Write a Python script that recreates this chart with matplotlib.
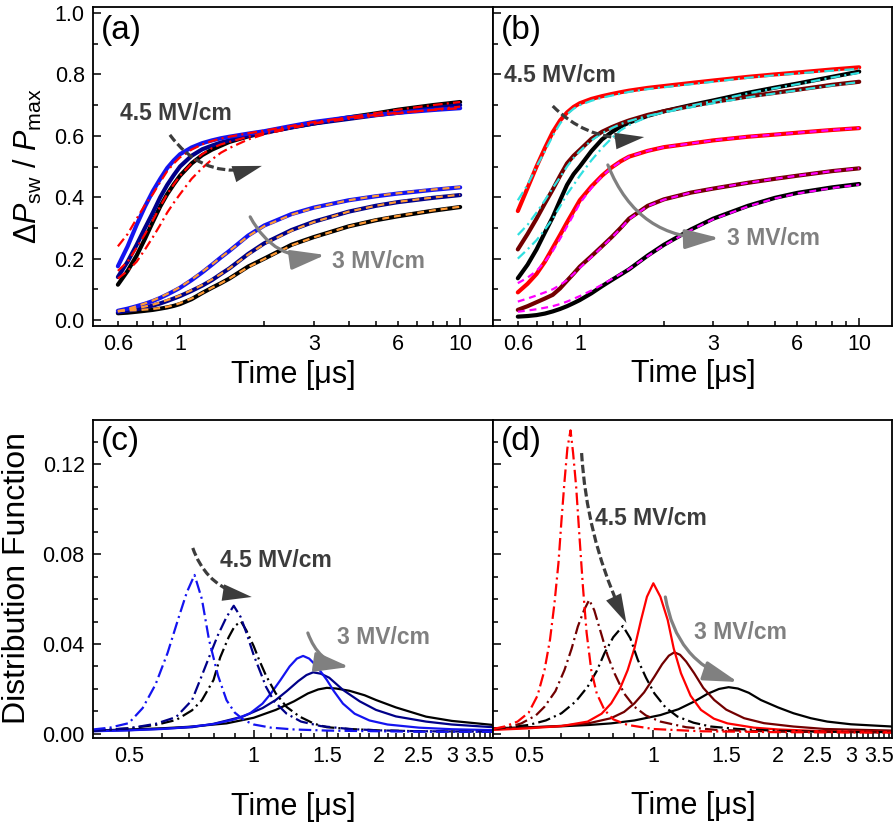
import numpy as np
import matplotlib
matplotlib.use("Agg")
import matplotlib.pyplot as plt
from matplotlib.patches import FancyArrowPatch, ArrowStyle
from matplotlib.ticker import FixedLocator, FuncFormatter, MultipleLocator, NullFormatter

plt.rcParams['font.family'] = ['Liberation Sans', 'DejaVu Sans']
plt.rcParams['mathtext.fontset'] = 'custom'
plt.rcParams['mathtext.rm'] = 'Liberation Sans'
plt.rcParams['mathtext.it'] = 'Liberation Sans:italic'
plt.rcParams['mathtext.bf'] = 'Liberation Sans:bold'
plt.rcParams['lines.scale_dashes'] = False

# ---------------- data: panels (a) and (b) ----------------
t_sw = [0.6, 0.65, 0.7, 0.75, 0.8, 0.85, 0.9, 0.95, 1.0, 1.1, 1.2, 1.3, 1.4, 1.5,
        1.75, 2, 2.5, 3, 4, 5, 6, 8, 10]

# (a) 4.5 MV/cm measured
a45_blue = [.175, .24, .31, .37, .42, .46, .495, .52, .54, .562, .576, .585, .592, .597, .607, .615, .632, .645, .66, .668, .675, .684, .69]
a45_navy = [.14, .19, .245, .30, .35, .40, .44, .472, .50, .535, .556, .568, .578, .585, .60, .61, .627, .64, .655, .667, .675, .69, .70]
a45_black = [.115, .16, .21, .265, .32, .37, .41, .442, .47, .51, .537, .555, .568, .58, .598, .61, .628, .64, .66, .673, .685, .70, .71]
# (a) 4.5 MV/cm fits
a45_fit1 = [.24, .28, .33, .375, .41, .45, .485, .51, .53, .555, .572, .583, .591, .597, .608, .617, .632, .645, .66, .668, .675, .684, .69]
a45_fit2 = [.16, .19, .235, .28, .325, .37, .41, .442, .47, .51, .54, .56, .572, .58, .597, .61, .627, .64, .655, .665, .673, .685, .695]
a45_fit3 = [.135, .16, .19, .23, .27, .31, .35, .382, .41, .46, .495, .523, .545, .56, .588, .605, .625, .64, .66, .674, .685, .70, .71]
# (a) 3 MV/cm measured
a3_blue = [.03, .037, .045, .053, .062, .072, .083, .094, .105, .13, .155, .18, .204, .225, .275, .308, .345, .366, .39, .403, .412, .424, .432]
a3_navy = [.025, .03, .035, .041, .047, .054, .062, .07, .078, .095, .112, .13, .15, .168, .215, .25, .293, .32, .353, .372, .384, .398, .407]
a3_black = [.022, .024, .027, .03, .033, .037, .041, .046, .052, .068, .088, .105, .12, .135, .174, .2, .245, .27, .305, .325, .338, .356, .368]
# (a) 3 MV/cm fits
a3_fit1 = [.028, .036, .045, .054, .064, .074, .085, .096, .107, .132, .157, .181, .204, .225, .273, .306, .343, .365, .39, .404, .413, .425, .433]
a3_fit2 = [.028, .033, .038, .044, .05, .057, .065, .072, .08, .097, .114, .132, .15, .168, .213, .248, .291, .319, .353, .372, .385, .399, .408]
a3_fit3 = [.03, .031, .032, .034, .036, .039, .043, .048, .055, .07, .088, .105, .12, .135, .172, .199, .243, .269, .305, .326, .339, .357, .369]

# (b) 4.5 MV/cm measured
b45_red = [.355, .43, .50, .56, .612, .65, .676, .694, .706, .72, .729, .736, .742, .747, .756, .762, .772, .78, .792, .80, .806, .816, .823]
b45_maroon = [.23, .28, .33, .38, .425, .47, .51, .535, .554, .59, .613, .628, .64, .65, .668, .68, .697, .71, .728, .74, .75, .766, .776]
b45_black = [.136, .18, .23, .285, .335, .39, .44, .475, .50, .55, .588, .612, .63, .643, .665, .68, .70, .715, .74, .757, .77, .792, .809]
# (b) 4.5 MV/cm fits
b45_fit1 = [.39, .44, .50, .55, .60, .64, .67, .688, .70, .714, .724, .731, .737, .743, .752, .758, .768, .776, .789, .797, .803, .812, .818]
b45_fit2 = [.277, .31, .35, .39, .43, .465, .50, .528, .55, .585, .608, .625, .638, .648, .665, .676, .693, .706, .725, .738, .748, .764, .775]
b45_fit3 = [.20, .23, .26, .295, .33, .37, .41, .44, .47, .52, .56, .592, .618, .635, .662, .677, .698, .713, .738, .755, .768, .79, .805]
# (b) 3 MV/cm measured
b3_red = [.09, .118, .15, .19, .235, .277, .318, .355, .39, .435, .47, .497, .517, .532, .551, .563, .575, .585, .597, .604, .61, .619, .625]
b3_maroon = [.033, .045, .058, .07, .082, .103, .128, .151, .174, .208, .24, .27, .30, .33, .372, .393, .415, .428, .447, .46, .47, .485, .494]
b3_black = [.011, .013, .016, .021, .028, .036, .045, .055, .065, .087, .11, .13, .148, .165, .21, .245, .295, .33, .372, .398, .414, .432, .443]
# (b) 3 MV/cm fits
b3_fit1 = [.12, .138, .16, .19, .225, .265, .305, .343, .38, .43, .468, .496, .516, .532, .551, .563, .575, .585, .597, .604, .61, .619, .625]
b3_fit2 = [.06, .07, .08, .09, .10, .114, .13, .15, .17, .205, .238, .268, .298, .328, .371, .392, .415, .428, .447, .46, .47, .485, .494]
b3_fit3 = [.027, .031, .035, .04, .045, .052, .06, .069, .078, .096, .115, .133, .15, .166, .208, .243, .293, .328, .37, .396, .412, .43, .441]

# ---------------- data: panel (c) ----------------
c45_1_t = [0.41, 0.45, 0.5, 0.54, 0.58, 0.62, 0.66, 0.69, 0.72, 0.75, 0.78, 0.82, 0.86, 0.9, 0.95, 1.0, 1.1, 1.25, 1.5, 2.0, 2.5, 3.0, 3.77]
c45_1_v = [0.0020, 0.0028, 0.0048, 0.0115, 0.022, 0.036, 0.052, 0.063, 0.0707, 0.060, 0.042, 0.026, 0.015, 0.0095, 0.006, 0.0042, 0.0028, 0.002, 0.0015, 0.0012, 0.0010, 0.0010, 0.0010]
c45_2_t = [0.41, 0.5, 0.58, 0.65, 0.71, 0.75, 0.78, 0.82, 0.86, 0.895, 0.93, 0.96, 1.0, 1.04, 1.07, 1.12, 1.2, 1.3, 1.45, 1.7, 2.0, 2.5, 3.77]
c45_2_v = [0.0015, 0.0025, 0.0045, 0.0075, 0.015, 0.026, 0.034, 0.044, 0.052, 0.0570, 0.052, 0.045, 0.035, 0.027, 0.021, 0.0145, 0.0090, 0.0055, 0.0035, 0.0022, 0.0016, 0.0012, 0.001]
c45_3_t = [0.41, 0.5, 0.58, 0.65, 0.71, 0.75, 0.8, 0.83, 0.87, 0.9, 0.932, 0.96, 1.0, 1.03, 1.07, 1.13, 1.2, 1.29, 1.4, 1.5, 1.7, 2.0, 2.5, 3.77]
c45_3_v = [0.0015, 0.0025, 0.0040, 0.0062, 0.0105, 0.015, 0.024, 0.034, 0.043, 0.048, 0.0500, 0.046, 0.039, 0.033, 0.026, 0.018, 0.012, 0.0077, 0.0045, 0.003, 0.0022, 0.0016, 0.0012, 0.001]
c3_1_t = [0.41, 0.5, 0.6, 0.7, 0.8, 0.9, 0.98, 1.05, 1.1, 1.16, 1.22, 1.27, 1.315, 1.36, 1.42, 1.5, 1.56, 1.64, 1.75, 1.9, 2.1, 2.5, 3.0, 3.77]
c3_1_v = [0.0012, 0.0016, 0.0022, 0.0031, 0.0044, 0.0065, 0.0092, 0.0135, 0.018, 0.024, 0.030, 0.0335, 0.0347, 0.0335, 0.030, 0.024, 0.019, 0.0135, 0.0090, 0.0060, 0.0042, 0.0028, 0.0021, 0.0017]
c3_2_t = [0.41, 0.5, 0.6, 0.71, 0.8, 0.94, 1.05, 1.13, 1.2, 1.28, 1.34, 1.39, 1.45, 1.52, 1.64, 1.8, 1.97, 2.2, 2.6, 3.0, 3.77]
c3_2_v = [0.0013, 0.0017, 0.0023, 0.0030, 0.0045, 0.0077, 0.0115, 0.0151, 0.019, 0.0235, 0.0262, 0.0274, 0.0268, 0.025, 0.0196, 0.0145, 0.0107, 0.0078, 0.0055, 0.0042, 0.003]
c3_3_t = [0.41, 0.5, 0.6, 0.7, 0.86, 1.0, 1.13, 1.25, 1.35, 1.43, 1.5, 1.58, 1.7, 1.85, 1.97, 2.2, 2.6, 3.0, 3.77]
c3_3_v = [0.0015, 0.002, 0.0025, 0.0032, 0.0047, 0.0072, 0.0107, 0.0145, 0.018, 0.0198, 0.0205, 0.0202, 0.0192, 0.0172, 0.0151, 0.0118, 0.0077, 0.0058, 0.004]

# ---------------- data: panel (d) ----------------
d45_1_t = [0.41, 0.437, 0.47, 0.5, 0.525, 0.546, 0.563, 0.577, 0.59, 0.6, 0.61, 0.62, 0.631, 0.64, 0.651, 0.663, 0.676, 0.69, 0.708, 0.73, 0.762, 0.8, 0.867, 1.0, 1.3, 2.0, 3.77]
d45_1_v = [0.0022, 0.0033, 0.0055, 0.0095, 0.017, 0.0284, 0.042, 0.058, 0.076, 0.095, 0.112, 0.127, 0.135, 0.125, 0.110, 0.088, 0.0655, 0.045, 0.0284, 0.018, 0.0107, 0.0065, 0.004, 0.0022, 0.0012, 0.0008, 0.0006]
d45_2_t = [0.41, 0.45, 0.48, 0.52, 0.546, 0.58, 0.61, 0.635, 0.657, 0.68, 0.70, 0.72, 0.748, 0.775, 0.806, 0.85, 0.9, 0.96, 1.04, 1.2, 1.42, 2.0, 3.77]
d45_2_v = [0.0022, 0.0032, 0.0047, 0.0082, 0.0121, 0.019, 0.0284, 0.038, 0.0477, 0.055, 0.0596, 0.055, 0.0447, 0.035, 0.0269, 0.018, 0.0121, 0.0082, 0.0055, 0.003, 0.0018, 0.001, 0.0007]
d45_3_t = [0.41, 0.45, 0.5, 0.55, 0.6, 0.65, 0.694, 0.73, 0.762, 0.8, 0.844, 0.88, 0.917, 0.96, 1.006, 1.07, 1.144, 1.25, 1.377, 1.6, 2.0, 2.5, 3.77]
d45_3_v = [0.0022, 0.003, 0.004, 0.006, 0.0092, 0.0145, 0.021, 0.028, 0.0359, 0.043, 0.048, 0.0425, 0.033, 0.025, 0.018, 0.0118, 0.0077, 0.005, 0.0033, 0.0022, 0.0014, 0.001, 0.0008]
d3_1_t = [0.41, 0.5, 0.6, 0.694, 0.75, 0.791, 0.83, 0.867, 0.9, 0.934, 0.965, 1.0, 1.04, 1.083, 1.12, 1.166, 1.23, 1.303, 1.4, 1.51, 1.75, 2.0, 2.5, 3.77]
d3_1_v = [0.0018, 0.0025, 0.0035, 0.0055, 0.009, 0.0136, 0.02, 0.0284, 0.038, 0.0507, 0.061, 0.067, 0.061, 0.0507, 0.038, 0.027, 0.017, 0.0107, 0.0068, 0.0047, 0.0028, 0.002, 0.0013, 0.0009]
d3_2_t = [0.41, 0.5, 0.6, 0.7, 0.79, 0.85, 0.9, 0.95, 1.006, 1.05, 1.09, 1.124, 1.16, 1.2, 1.255, 1.32, 1.403, 1.5, 1.657, 1.85, 2.18, 2.6, 3.77]
d3_2_v = [0.0022, 0.0028, 0.0036, 0.0048, 0.007, 0.0098, 0.0136, 0.0185, 0.0255, 0.031, 0.0348, 0.0363, 0.0352, 0.0322, 0.027, 0.0205, 0.0151, 0.0108, 0.007, 0.0048, 0.0033, 0.0022, 0.0015]
d3_3_t = [0.41, 0.5, 0.6, 0.7, 0.79, 0.9, 1.04, 1.15, 1.255, 1.35, 1.44, 1.52, 1.6, 1.7, 1.818, 2.0, 2.18, 2.4, 2.63, 3.0, 3.77]
d3_3_v = [0.0025, 0.003, 0.0034, 0.004, 0.0047, 0.006, 0.0084, 0.011, 0.0144, 0.0178, 0.0200, 0.0208, 0.0202, 0.0183, 0.0151, 0.0118, 0.0092, 0.007, 0.0055, 0.0043, 0.0033]

# tick labels
top_major = [1, 10]
top_minor = [0.6, 0.7, 0.8, 0.9, 2, 3, 4, 5, 6, 7, 8, 9]
top_minor_labels = {0.6: '0.6', 3: '3', 6: '6'}
bot_major = [0.5, 1, 1.5, 2, 2.5, 3, 3.5]
bot_major_labels = ['0.5', '1', '1.5', '2', '2.5', '3', '3.5']
bot_minor = [0.4, 0.6, 0.7, 0.8, 0.9, 1.1, 1.2, 1.3, 1.4, 1.6, 1.7, 1.8, 1.9,
             2.1, 2.2, 2.3, 2.4, 2.6, 2.7, 2.8, 2.9, 3.1, 3.2, 3.3, 3.4, 3.6, 3.7]

# ---------------- styles ----------------
BLUE, NAVY, BLACK = '#1414f0', '#000088', '#000000'
RED, MAROON = '#ff0000', '#720000'
CYAN, MAGENTA, ORANGE = '#30e0e0', '#ff00ff', '#ff9933'
DARK, GRAY = '#3c3c3c', '#808080'
DASHDOT = (0, (7, 3, 1.5, 3))
DASH = (0, (5, 3.5))
DD2 = (0, (9, 3, 1.5, 3))
LW_DATA, LW_FIT, LW_DIST = 3.0, 1.6, 1.6

W, H = 896, 827
fig = plt.figure(figsize=(W / 100, H / 100), dpi=100)


def rect(l, t, r, b):
    return [l / W, 1 - b / H, (r - l) / W, (b - t) / H]


ax_a = fig.add_axes(rect(93, 7, 493, 326))
ax_b = fig.add_axes(rect(493, 7, 892, 326))
ax_c = fig.add_axes(rect(93, 420, 493, 738))
ax_d = fig.add_axes(rect(493, 420, 892, 738))


def style_common(ax, left_labels):
    for s in ax.spines.values():
        s.set_linewidth(1.3)
    ax.tick_params(which='both', direction='in', top=False, right=False,
                   labelsize=15.5, pad=6, width=1.1)
    ax.tick_params(which='major', length=6)
    ax.tick_params(which='minor', length=3.5)
    if not left_labels:
        ax.tick_params(axis='y', which='both', labelleft=False)


for ax, lab in ((ax_a, True), (ax_b, False)):
    ax.set_xscale('log')
    ax.set_xlim(0.489, 13.1)
    ax.set_ylim(-0.0195, 1.0195)
    ax.xaxis.set_major_locator(FixedLocator(top_major))
    ax.xaxis.set_minor_locator(FixedLocator(top_minor))
    ax.xaxis.set_major_formatter(FuncFormatter(lambda v, p: '%g' % v))
    ax.xaxis.set_minor_formatter(FuncFormatter(
        lambda v, p: top_minor_labels.get(round(v, 3), '')))
    ax.yaxis.set_major_locator(MultipleLocator(0.2))
    ax.yaxis.set_minor_locator(MultipleLocator(0.1))
    ax.yaxis.set_major_formatter(FuncFormatter(lambda v, p: '%.1f' % v))
    style_common(ax, lab)

for ax, lab in ((ax_c, True), (ax_d, False)):
    ax.set_xscale('log')
    ax.set_xlim(0.41, 3.77)
    ax.set_ylim(-0.0018, 0.1396)
    ax.xaxis.set_major_locator(FixedLocator(bot_major))
    ax.xaxis.set_minor_locator(FixedLocator(bot_minor))
    ax.xaxis.set_major_formatter(FuncFormatter(
        lambda v, p: bot_major_labels[bot_major.index(min(bot_major, key=lambda m: abs(m - v)))]))
    ax.xaxis.set_minor_formatter(NullFormatter())
    ax.yaxis.set_major_locator(MultipleLocator(0.04))
    ax.yaxis.set_minor_locator(MultipleLocator(0.01))
    ax.yaxis.set_major_formatter(FuncFormatter(lambda v, p: '%.2f' % v))
    style_common(ax, lab)

# ---------------- panel (a) ----------------
for y, c in ((a45_black, BLACK), (a45_navy, NAVY), (a45_blue, BLUE)):
    ax_a.plot(t_sw, y, color=c, lw=LW_DATA, solid_capstyle='round', solid_joinstyle='round')
for y in (a45_fit1, a45_fit2, a45_fit3):
    ax_a.plot(t_sw, y, color=RED, lw=LW_FIT, linestyle=DASHDOT)
for y, c in ((a3_black, BLACK), (a3_navy, NAVY), (a3_blue, BLUE)):
    ax_a.plot(t_sw, y, color=c, lw=LW_DATA, solid_capstyle='round', solid_joinstyle='round')
for y in (a3_fit1, a3_fit2, a3_fit3):
    ax_a.plot(t_sw, y, color=ORANGE, lw=LW_FIT, linestyle=DASH)

# ---------------- panel (b) ----------------
for y, c in ((b45_black, BLACK), (b45_maroon, MAROON), (b45_red, RED)):
    ax_b.plot(t_sw, y, color=c, lw=LW_DATA, solid_capstyle='round', solid_joinstyle='round')
for y in (b45_fit1, b45_fit2, b45_fit3):
    ax_b.plot(t_sw, y, color=CYAN, lw=LW_FIT, linestyle=DASHDOT)
for y, c in ((b3_black, BLACK), (b3_maroon, MAROON), (b3_red, RED)):
    ax_b.plot(t_sw, y, color=c, lw=LW_DATA, solid_capstyle='round', solid_joinstyle='round')
for y in (b3_fit1, b3_fit2, b3_fit3):
    ax_b.plot(t_sw, y, color=MAGENTA, lw=LW_FIT, linestyle=DASH)

# ---------------- panel (c) ----------------
ax_c.plot(c3_3_t, c3_3_v, color=BLACK, lw=LW_DIST)
ax_c.plot(c3_2_t, c3_2_v, color=NAVY, lw=LW_DIST)
ax_c.plot(c3_1_t, c3_1_v, color=BLUE, lw=LW_DIST)
ax_c.plot(c45_3_t, c45_3_v, color=BLACK, lw=LW_DIST, linestyle=DD2)
ax_c.plot(c45_2_t, c45_2_v, color=NAVY, lw=LW_DIST, linestyle=DD2)
ax_c.plot(c45_1_t, c45_1_v, color=BLUE, lw=LW_DIST, linestyle=DD2)

# ---------------- panel (d) ----------------
ax_d.plot(d3_3_t, d3_3_v, color=BLACK, lw=LW_DIST)
ax_d.plot(d3_2_t, d3_2_v, color=MAROON, lw=LW_DIST)
ax_d.plot(d3_1_t, d3_1_v, color=RED, lw=LW_DIST)
ax_d.plot(d45_3_t, d45_3_v, color=BLACK, lw=LW_DIST, linestyle=DD2)
ax_d.plot(d45_2_t, d45_2_v, color=MAROON, lw=LW_DIST, linestyle=DD2)
ax_d.plot(d45_1_t, d45_1_v, color=RED, lw=LW_DIST, linestyle=DD2)


# ---------------- annotations ----------------
HEAD = ArrowStyle('-|>', head_length=2.1, head_width=0.6)


def arrow(ax, p0, p1, color, rad, dashed=False):
    cs = 'arc3,rad=%g' % rad
    if dashed:
        shaft = FancyArrowPatch(p0, p1, transform=ax.transData, arrowstyle='-',
                                mutation_scale=10, connectionstyle=cs, color=color,
                                lw=2.3, linestyle=(0, (6, 2.5)), zorder=10,
                                shrinkA=0, shrinkB=12, capstyle='butt')
        ax.add_patch(shaft)
        head = FancyArrowPatch(p0, p1, transform=ax.transData, arrowstyle=HEAD,
                               mutation_scale=10, connectionstyle=cs, color=color,
                               lw=0.0, zorder=10, shrinkA=0, shrinkB=0)
        ax.add_patch(head)
    else:
        a = FancyArrowPatch(p0, p1, transform=ax.transData, arrowstyle=HEAD,
                            mutation_scale=10, connectionstyle=cs, color=color,
                            lw=2.3, zorder=10, shrinkA=0, shrinkB=0)
        ax.add_patch(a)


arrow(ax_a, (0.92, 0.603), (1.96, 0.502), DARK, 0.35, True)
arrow(ax_a, (1.78, 0.336), (3.3, 0.212), GRAY, 0.35)
arrow(ax_b, (0.80, 0.697), (1.70, 0.596), DARK, 0.25, True)
arrow(ax_b, (1.26, 0.505), (3.16, 0.267), GRAY, 0.35)
arrow(ax_c, (0.713, 0.0827), (0.989, 0.0609), DARK, 0.3, True)
arrow(ax_c, (1.35, 0.0449), (1.70, 0.0298), GRAY, 0.3)
arrow(ax_d, (0.671, 0.1249), (0.861, 0.0493), DARK, 0.1, True)
arrow(ax_d, (1.069, 0.0609), (1.60, 0.0231), GRAY, 0.3)

tk = dict(fontsize=16.5, fontweight='bold', ha='left', va='center', zorder=11)
ax_a.text(0.61, 0.674, '4.5 MV/cm', color=DARK, **tk)
ax_a.text(3.49, 0.189, '3 MV/cm', color=GRAY, **tk)
ax_b.text(0.537, 0.798, '4.5 MV/cm', color=DARK, **tk)
ax_b.text(3.35, 0.264, '3 MV/cm', color=GRAY, **tk)
ax_c.text(0.828, 0.0773, '4.5 MV/cm', color=DARK, **tk)
ax_c.text(1.585, 0.0427, '3 MV/cm', color=GRAY, **tk)
ax_d.text(0.721, 0.096, '4.5 MV/cm', color=DARK, **tk)
ax_d.text(1.255, 0.0453, '3 MV/cm', color=GRAY, **tk)

for ax, s, y in ((ax_a, '(a)', 0.925), (ax_b, '(b)', 0.925), (ax_c, '(c)', 0.932), (ax_d, '(d)', 0.932)):
    ax.text(0.02, y, s, fontsize=24, ha='left', va='center', transform=ax.transAxes)

# axis labels
fig.text(28 / W, 1 - 166 / H, r'$\Delta P_{\mathrm{sw}}$ / $P_{\mathrm{max}}$',
         rotation=90, ha='center', va='center', fontsize=22)
fig.text(17 / W, 1 - 578 / H, 'Distribution Function',
         rotation=90, ha='center', va='center', fontsize=23)
for x, y in ((293, 375), (693, 374), (293, 807), (693, 806)):
    fig.text(x / W, 1 - y / H, 'Time [\u03bcs]', ha='center', va='center', fontsize=22)

fig.savefig('out.png', dpi=100)
